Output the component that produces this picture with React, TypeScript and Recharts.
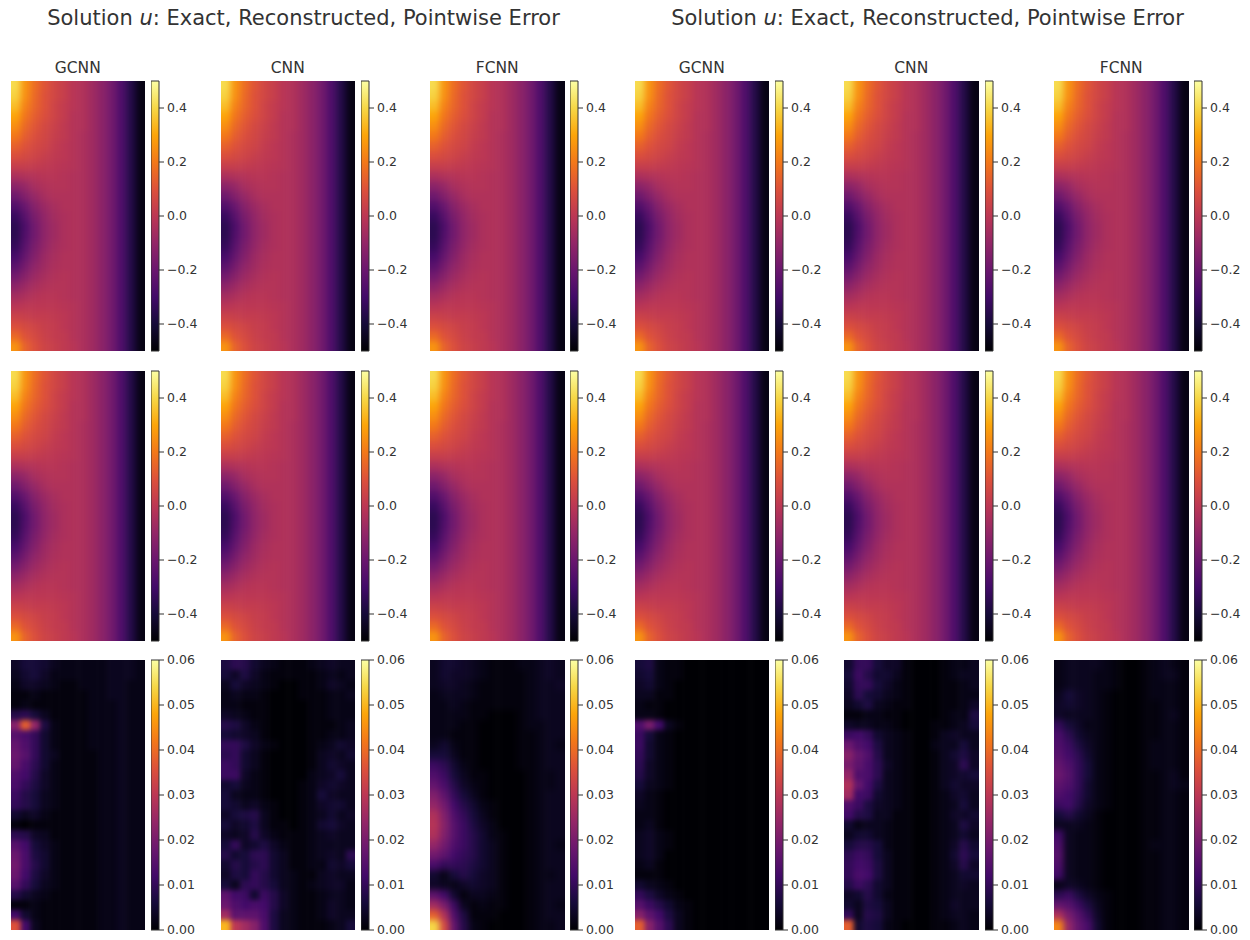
import React from "react";
import { Bar, BarChart, Scatter, ScatterChart, XAxis, YAxis } from "recharts";

const MODEL_NAMES = ["GCNN", "CNN", "FCNN", "GCNN", "CNN", "FCNN"];
const TITLE_PREFIX = "Solution ";
const TITLE_SUFFIX = ": Exact, Reconstructed, Pointwise Error";

const FIELD_TICKS = [-0.4, -0.2, 0, 0.2, 0.4];
const ERROR_TICKS = [0, 0.01, 0.02, 0.03, 0.04, 0.05, 0.06];

const INFERNO = ["#000004", "#160b39", "#420a68", "#6a176e", "#932667", "#bc3754", "#dd513a", "#f37819", "#fca50a", "#f6d746", "#fcffa4"];

// u field, same look in the exact and reconstructed rows
const FIELD = [
  [0.41, 0.26, 0.17, 0.11, 0.06, 0.03, -0.01, -0.03, -0.07, -0.12, -0.18, -0.27, -0.37, -0.47],
  [0.39, 0.25, 0.16, 0.1, 0.06, 0.03, -0.01, -0.03, -0.07, -0.12, -0.18, -0.27, -0.37, -0.47],
  [0.35, 0.22, 0.15, 0.1, 0.05, 0.02, -0.01, -0.03, -0.07, -0.12, -0.18, -0.27, -0.37, -0.47],
  [0.3, 0.19, 0.13, 0.09, 0.05, 0.02, -0.02, -0.03, -0.07, -0.12, -0.18, -0.27, -0.37, -0.47],
  [0.25, 0.16, 0.11, 0.07, 0.04, 0.01, -0.02, -0.03, -0.07, -0.12, -0.18, -0.27, -0.37, -0.47],
  [0.2, 0.13, 0.09, 0.06, 0.03, 0.01, -0.02, -0.04, -0.07, -0.12, -0.18, -0.27, -0.37, -0.47],
  [0.14, 0.1, 0.07, 0.05, 0.02, 0, -0.02, -0.04, -0.07, -0.12, -0.18, -0.27, -0.37, -0.47],
  [0.09, 0.07, 0.05, 0.03, 0.01, 0, -0.02, -0.04, -0.07, -0.12, -0.18, -0.27, -0.37, -0.47],
  [0.03, 0.03, 0.02, 0.01, 0, -0.01, -0.02, -0.04, -0.07, -0.12, -0.18, -0.27, -0.37, -0.47],
  [-0.04, -0.03, -0.02, -0.01, -0.01, -0.02, -0.03, -0.04, -0.07, -0.12, -0.18, -0.27, -0.37, -0.47],
  [-0.12, -0.09, -0.05, -0.03, -0.02, -0.02, -0.03, -0.04, -0.07, -0.12, -0.18, -0.27, -0.37, -0.47],
  [-0.19, -0.14, -0.09, -0.05, -0.03, -0.03, -0.03, -0.04, -0.07, -0.12, -0.18, -0.27, -0.37, -0.47],
  [-0.26, -0.2, -0.13, -0.08, -0.05, -0.03, -0.03, -0.04, -0.07, -0.12, -0.18, -0.27, -0.37, -0.47],
  [-0.32, -0.24, -0.16, -0.1, -0.06, -0.04, -0.03, -0.04, -0.07, -0.12, -0.18, -0.27, -0.37, -0.47],
  [-0.35, -0.27, -0.18, -0.11, -0.07, -0.04, -0.03, -0.04, -0.07, -0.12, -0.18, -0.27, -0.37, -0.47],
  [-0.35, -0.26, -0.18, -0.11, -0.07, -0.04, -0.03, -0.04, -0.07, -0.12, -0.18, -0.27, -0.37, -0.47],
  [-0.33, -0.24, -0.16, -0.1, -0.06, -0.04, -0.03, -0.04, -0.07, -0.12, -0.18, -0.27, -0.37, -0.47],
  [-0.29, -0.21, -0.14, -0.08, -0.05, -0.03, -0.03, -0.04, -0.07, -0.12, -0.18, -0.27, -0.37, -0.47],
  [-0.24, -0.17, -0.11, -0.07, -0.04, -0.03, -0.03, -0.04, -0.07, -0.12, -0.18, -0.27, -0.37, -0.47],
  [-0.18, -0.13, -0.08, -0.05, -0.03, -0.02, -0.03, -0.04, -0.07, -0.12, -0.18, -0.27, -0.37, -0.47],
  [-0.12, -0.08, -0.05, -0.03, -0.02, -0.02, -0.03, -0.04, -0.07, -0.12, -0.18, -0.27, -0.37, -0.47],
  [-0.06, -0.04, -0.02, -0.01, -0.01, -0.02, -0.03, -0.04, -0.07, -0.12, -0.18, -0.27, -0.37, -0.47],
  [-0.01, 0, 0, 0, 0, -0.01, -0.02, -0.04, -0.07, -0.12, -0.18, -0.27, -0.37, -0.47],
  [0.04, 0.03, 0.02, 0.02, 0.01, 0, -0.02, -0.04, -0.07, -0.12, -0.18, -0.27, -0.37, -0.47],
  [0.09, 0.07, 0.05, 0.03, 0.02, 0, -0.02, -0.04, -0.07, -0.12, -0.18, -0.27, -0.37, -0.47],
  [0.16, 0.1, 0.07, 0.04, 0.02, 0.01, -0.02, -0.04, -0.07, -0.12, -0.18, -0.27, -0.37, -0.47],
  [0.26, 0.14, 0.09, 0.05, 0.03, 0.01, -0.01, -0.04, -0.07, -0.12, -0.18, -0.27, -0.37, -0.47],
];

// pointwise errors, in thousandths
const ERROR_GCNN_A = [
  [4, 6, 6, 5, 3, 2, 2, 2, 2, 2, 3, 3, 3, 2],
  [3, 5, 6, 4, 2, 2, 2, 2, 2, 2, 3, 3, 3, 2],
  [2, 4, 4, 3, 2, 1, 1, 2, 2, 2, 3, 3, 2, 2],
  [1, 1, 2, 1, 1, 1, 1, 1, 2, 2, 3, 3, 2, 2],
  [1, 2, 1, 1, 1, 1, 1, 1, 2, 2, 2, 3, 2, 2],
  [8, 9, 6, 3, 1, 1, 1, 1, 2, 2, 2, 3, 2, 2],
  [22, 38, 24, 7, 2, 1, 1, 1, 2, 2, 2, 3, 2, 2],
  [15, 13, 10, 5, 2, 1, 1, 1, 2, 2, 2, 3, 2, 2],
  [17, 14, 10, 5, 2, 1, 1, 1, 2, 2, 2, 3, 2, 2],
  [18, 15, 10, 5, 3, 1, 1, 1, 1, 2, 2, 3, 2, 2],
  [17, 13, 9, 5, 2, 1, 1, 1, 1, 2, 2, 3, 2, 2],
  [14, 12, 8, 4, 2, 1, 1, 1, 1, 2, 2, 3, 2, 2],
  [13, 10, 7, 4, 2, 1, 1, 1, 1, 2, 2, 3, 2, 2],
  [11, 8, 6, 3, 2, 1, 1, 1, 1, 2, 2, 3, 2, 2],
  [10, 8, 6, 3, 2, 1, 1, 1, 1, 2, 2, 3, 2, 2],
  [5, 3, 4, 2, 1, 1, 1, 1, 1, 2, 2, 3, 2, 2],
  [1, 0, 1, 1, 1, 1, 1, 1, 1, 2, 2, 3, 2, 2],
  [9, 8, 4, 3, 1, 1, 1, 1, 1, 2, 2, 3, 2, 2],
  [15, 12, 6, 4, 2, 1, 1, 1, 1, 2, 2, 3, 2, 2],
  [18, 13, 7, 5, 2, 1, 1, 1, 1, 2, 2, 3, 2, 2],
  [19, 13, 8, 5, 2, 1, 1, 1, 1, 2, 2, 3, 2, 2],
  [18, 12, 7, 4, 2, 1, 1, 1, 1, 2, 2, 3, 2, 2],
  [15, 10, 6, 3, 2, 1, 1, 1, 1, 2, 2, 3, 2, 2],
  [8, 5, 3, 2, 1, 1, 1, 1, 1, 2, 2, 3, 2, 2],
  [1, 1, 2, 1, 1, 1, 1, 1, 1, 2, 2, 3, 2, 2],
  [12, 5, 2, 1, 1, 1, 1, 1, 1, 2, 2, 3, 2, 2],
  [36, 12, 3, 1, 1, 1, 1, 1, 1, 2, 2, 3, 2, 2],
];

const ERROR_CNN_A = [
  [7, 9, 8, 5, 3, 2, 1, 1, 1, 2, 3, 4, 3, 3],
  [6, 4, 7, 4, 2, 1, 1, 1, 1, 1, 2, 3, 2, 3],
  [3, 6, 4, 3, 2, 1, 0, 0, 1, 1, 2, 4, 3, 2],
  [2, 3, 2, 2, 1, 0, 0, 0, 1, 1, 1, 2, 2, 3],
  [2, 2, 1, 1, 1, 0, 0, 0, 0, 1, 1, 2, 2, 2],
  [4, 3, 2, 1, 1, 0, 0, 0, 0, 1, 1, 2, 2, 2],
  [8, 7, 4, 2, 1, 0, 0, 0, 0, 1, 1, 1, 2, 3],
  [6, 5, 4, 3, 1, 0, 0, 0, 0, 1, 1, 2, 2, 3],
  [10, 10, 7, 4, 2, 1, 0, 0, 0, 1, 2, 3, 5, 4],
  [9, 10, 5, 3, 1, 0, 0, 0, 0, 1, 3, 4, 3, 5],
  [11, 10, 5, 3, 1, 0, 0, 0, 0, 1, 3, 5, 4, 3],
  [11, 11, 4, 2, 1, 0, 0, 0, 0, 2, 3, 4, 6, 3],
  [5, 6, 3, 2, 1, 0, 0, 0, 1, 2, 4, 5, 4, 3],
  [6, 3, 2, 2, 1, 0, 0, 0, 1, 2, 6, 4, 3, 3],
  [6, 5, 3, 4, 2, 1, 0, 0, 1, 2, 4, 5, 5, 3],
  [4, 6, 7, 8, 3, 1, 0, 0, 1, 2, 3, 5, 3, 4],
  [6, 4, 5, 7, 3, 1, 1, 0, 1, 2, 5, 6, 4, 3],
  [4, 3, 4, 8, 4, 2, 1, 1, 1, 2, 3, 4, 3, 3],
  [6, 10, 4, 5, 7, 4, 2, 1, 1, 2, 3, 3, 3, 3],
  [8, 5, 6, 9, 9, 5, 3, 1, 1, 2, 3, 4, 3, 9],
  [5, 8, 6, 8, 9, 5, 3, 1, 1, 2, 2, 5, 4, 6],
  [4, 7, 6, 10, 8, 5, 3, 2, 1, 1, 3, 4, 3, 3],
  [6, 3, 9, 10, 8, 6, 3, 2, 1, 2, 3, 4, 4, 2],
  [16, 12, 11, 5, 11, 8, 4, 2, 1, 1, 2, 3, 3, 2],
  [18, 14, 12, 13, 12, 8, 4, 2, 1, 1, 2, 4, 3, 2],
  [26, 16, 16, 16, 13, 7, 3, 2, 1, 1, 2, 4, 3, 3],
  [50, 30, 26, 22, 14, 7, 3, 2, 1, 1, 1, 2, 3, 6],
];

const ERROR_FCNN_A = [
  [3, 5, 5, 4, 3, 2, 1, 1, 1, 2, 2, 3, 4, 3],
  [3, 5, 4, 4, 3, 2, 1, 1, 1, 1, 2, 3, 4, 3],
  [3, 4, 4, 3, 2, 1, 1, 1, 1, 1, 2, 3, 3, 4],
  [2, 3, 3, 3, 2, 1, 1, 1, 1, 1, 2, 3, 3, 3],
  [2, 2, 3, 2, 1, 1, 1, 1, 1, 1, 2, 3, 3, 3],
  [2, 2, 2, 2, 1, 1, 0, 0, 0, 1, 2, 3, 3, 3],
  [2, 2, 2, 1, 1, 0, 0, 0, 0, 1, 2, 2, 3, 3],
  [2, 2, 1, 1, 1, 0, 0, 0, 0, 1, 1, 2, 3, 3],
  [3, 5, 2, 1, 1, 0, 0, 0, 0, 1, 1, 2, 3, 2],
  [6, 6, 3, 1, 1, 0, 0, 0, 0, 1, 1, 2, 3, 3],
  [11, 9, 5, 2, 1, 0, 0, 0, 0, 1, 1, 2, 3, 3],
  [14, 11, 6, 3, 1, 1, 0, 0, 0, 0, 1, 2, 2, 3],
  [17, 13, 8, 4, 2, 1, 0, 0, 0, 0, 1, 2, 2, 3],
  [21, 16, 10, 6, 3, 1, 0, 0, 0, 0, 1, 2, 3, 3],
  [24, 19, 12, 8, 5, 2, 1, 0, 0, 0, 1, 2, 3, 3],
  [28, 21, 14, 10, 6, 3, 1, 0, 0, 0, 1, 2, 3, 3],
  [29, 22, 15, 11, 7, 4, 2, 0, 0, 0, 1, 2, 3, 3],
  [28, 21, 15, 11, 8, 5, 2, 1, 0, 0, 1, 2, 3, 3],
  [24, 19, 14, 11, 8, 5, 3, 1, 0, 0, 1, 2, 3, 2],
  [19, 16, 12, 10, 8, 5, 3, 1, 0, 0, 1, 2, 3, 3],
  [13, 10, 10, 9, 7, 5, 3, 1, 0, 0, 1, 2, 3, 3],
  [5, 2, 6, 8, 6, 4, 3, 1, 0, 0, 1, 2, 2, 3],
  [4, 3, 2, 4, 5, 4, 3, 1, 0, 0, 1, 2, 3, 3],
  [16, 12, 5, 1, 3, 3, 2, 1, 0, 0, 1, 2, 3, 3],
  [26, 20, 11, 3, 1, 2, 1, 1, 0, 0, 1, 2, 3, 2],
  [38, 28, 14, 7, 1, 1, 1, 0, 0, 0, 1, 2, 3, 3],
  [54, 34, 17, 8, 2, 1, 0, 0, 0, 0, 1, 2, 2, 3],
];

const ERROR_GCNN_B = [
  [6, 7, 2, 1, 1, 0, 0, 0, 0, 0, 0, 0, 0, 0],
  [5, 6, 2, 1, 1, 0, 0, 0, 0, 0, 0, 0, 0, 0],
  [4, 5, 2, 1, 0, 0, 0, 0, 0, 0, 0, 0, 0, 0],
  [3, 3, 1, 1, 0, 0, 0, 0, 0, 0, 0, 0, 0, 0],
  [2, 1, 1, 0, 0, 0, 0, 0, 0, 0, 0, 0, 0, 0],
  [2, 2, 1, 0, 0, 0, 0, 0, 0, 0, 0, 0, 0, 0],
  [14, 20, 12, 3, 1, 0, 0, 0, 0, 0, 0, 0, 0, 0],
  [11, 6, 2, 1, 0, 0, 0, 0, 0, 0, 0, 0, 0, 0],
  [11, 5, 2, 1, 0, 0, 0, 0, 0, 0, 0, 0, 0, 0],
  [10, 5, 2, 1, 0, 0, 0, 0, 0, 0, 0, 0, 0, 0],
  [9, 4, 2, 1, 0, 0, 0, 0, 0, 0, 0, 0, 0, 0],
  [8, 4, 2, 1, 0, 0, 0, 0, 0, 0, 0, 0, 0, 0],
  [6, 3, 2, 1, 0, 0, 0, 0, 0, 0, 0, 0, 0, 0],
  [4, 2, 1, 0, 0, 0, 0, 0, 0, 0, 0, 0, 0, 0],
  [3, 2, 1, 0, 0, 0, 0, 0, 0, 0, 0, 0, 0, 0],
  [2, 2, 1, 0, 0, 0, 0, 0, 0, 0, 0, 0, 0, 0],
  [2, 3, 1, 0, 0, 0, 0, 0, 0, 0, 0, 0, 0, 0],
  [3, 4, 2, 1, 0, 0, 0, 0, 0, 0, 0, 0, 0, 0],
  [3, 4, 2, 1, 0, 0, 0, 0, 0, 0, 0, 0, 0, 0],
  [3, 4, 2, 0, 0, 0, 0, 0, 0, 0, 0, 0, 0, 0],
  [2, 3, 1, 0, 0, 0, 0, 0, 0, 0, 0, 0, 0, 0],
  [1, 1, 1, 0, 0, 0, 0, 0, 0, 0, 0, 0, 0, 0],
  [5, 3, 2, 1, 0, 0, 0, 0, 0, 0, 0, 0, 0, 0],
  [10, 7, 4, 2, 1, 0, 0, 0, 0, 0, 0, 0, 0, 0],
  [15, 11, 8, 5, 2, 1, 0, 0, 0, 0, 0, 0, 0, 0],
  [22, 16, 12, 7, 3, 1, 0, 0, 0, 0, 0, 0, 0, 0],
  [38, 22, 15, 9, 3, 1, 0, 0, 0, 0, 0, 0, 0, 0],
];

const ERROR_CNN_B = [
  [5, 10, 10, 6, 4, 4, 1, 0, 0, 0, 1, 2, 2, 3],
  [6, 11, 8, 5, 5, 3, 1, 0, 0, 0, 1, 2, 3, 3],
  [5, 10, 10, 6, 4, 2, 1, 0, 0, 0, 1, 1, 2, 3],
  [4, 9, 6, 5, 3, 2, 1, 0, 0, 0, 1, 1, 2, 2],
  [3, 5, 7, 3, 2, 1, 1, 0, 0, 0, 1, 1, 2, 4],
  [1, 1, 2, 2, 1, 1, 0, 0, 0, 0, 1, 2, 2, 7],
  [4, 3, 3, 2, 2, 1, 0, 0, 0, 1, 1, 2, 3, 6],
  [11, 12, 10, 5, 3, 2, 1, 0, 0, 1, 3, 4, 3, 3],
  [18, 14, 12, 7, 3, 2, 1, 0, 0, 2, 3, 3, 6, 3],
  [22, 17, 14, 8, 3, 2, 1, 0, 0, 1, 3, 5, 7, 4],
  [20, 16, 13, 9, 4, 2, 1, 0, 0, 1, 3, 4, 9, 4],
  [24, 14, 13, 9, 3, 2, 1, 0, 0, 1, 3, 4, 5, 6],
  [28, 17, 12, 7, 3, 2, 1, 0, 0, 1, 3, 5, 4, 4],
  [26, 12, 11, 5, 3, 2, 1, 0, 0, 1, 2, 4, 5, 3],
  [14, 11, 7, 4, 3, 2, 1, 0, 0, 1, 2, 3, 6, 3],
  [12, 8, 7, 3, 3, 1, 1, 0, 0, 1, 2, 4, 4, 5],
  [5, 2, 3, 3, 2, 1, 1, 0, 0, 1, 2, 3, 7, 4],
  [3, 5, 5, 3, 2, 1, 1, 0, 0, 1, 2, 3, 5, 3],
  [6, 8, 8, 6, 2, 1, 1, 0, 0, 1, 2, 4, 8, 5],
  [9, 11, 10, 6, 3, 1, 1, 0, 0, 1, 2, 5, 9, 6],
  [10, 12, 11, 7, 3, 1, 1, 0, 0, 1, 2, 4, 8, 4],
  [10, 13, 12, 7, 3, 1, 1, 0, 0, 1, 2, 3, 5, 5],
  [8, 11, 9, 5, 3, 1, 1, 0, 0, 1, 2, 3, 4, 3],
  [4, 5, 8, 5, 2, 1, 1, 0, 0, 1, 2, 3, 3, 3],
  [5, 3, 7, 6, 3, 1, 1, 0, 0, 1, 2, 4, 3, 3],
  [10, 3, 8, 7, 3, 1, 1, 0, 0, 1, 2, 3, 3, 2],
  [38, 5, 7, 6, 2, 1, 0, 0, 0, 1, 1, 2, 3, 2],
];

const ERROR_FCNN_B = [
  [2, 3, 3, 3, 3, 2, 1, 0, 0, 1, 2, 3, 2, 1],
  [2, 3, 3, 3, 2, 2, 1, 0, 0, 1, 2, 3, 3, 1],
  [2, 3, 3, 3, 2, 2, 1, 0, 0, 1, 2, 2, 2, 1],
  [3, 6, 4, 3, 2, 1, 0, 0, 0, 1, 2, 2, 2, 1],
  [4, 5, 4, 3, 2, 1, 0, 0, 0, 1, 1, 2, 2, 1],
  [4, 3, 3, 3, 2, 1, 0, 0, 0, 1, 1, 2, 3, 1],
  [10, 6, 4, 2, 2, 1, 0, 0, 0, 1, 1, 2, 2, 1],
  [13, 9, 5, 3, 2, 1, 0, 0, 0, 1, 1, 2, 2, 1],
  [14, 11, 7, 4, 2, 1, 0, 0, 0, 1, 2, 2, 2, 1],
  [15, 12, 9, 5, 2, 1, 0, 0, 0, 1, 2, 2, 2, 1],
  [17, 14, 10, 6, 2, 1, 0, 0, 0, 1, 2, 2, 2, 1],
  [18, 15, 10, 6, 2, 1, 0, 0, 0, 1, 1, 2, 3, 1],
  [16, 14, 10, 5, 2, 1, 0, 0, 0, 1, 1, 2, 3, 2],
  [14, 12, 9, 5, 2, 1, 0, 0, 0, 1, 1, 2, 2, 1],
  [11, 12, 8, 4, 2, 1, 0, 0, 0, 1, 1, 2, 2, 1],
  [6, 8, 5, 3, 1, 0, 0, 0, 0, 1, 1, 2, 2, 1],
  [3, 3, 3, 2, 1, 0, 0, 0, 0, 1, 1, 2, 2, 1],
  [12, 3, 2, 2, 1, 0, 0, 0, 0, 1, 1, 2, 2, 1],
  [14, 3, 2, 2, 1, 0, 0, 0, 0, 1, 2, 2, 2, 1],
  [15, 3, 2, 2, 1, 0, 0, 0, 0, 1, 1, 2, 2, 1],
  [14, 3, 2, 2, 1, 0, 0, 0, 0, 1, 1, 2, 2, 1],
  [12, 3, 2, 2, 1, 0, 0, 0, 0, 1, 1, 2, 2, 1],
  [2, 4, 3, 2, 1, 0, 0, 0, 0, 1, 1, 2, 2, 1],
  [9, 11, 7, 4, 2, 1, 0, 0, 0, 1, 1, 2, 2, 1],
  [17, 15, 11, 7, 3, 1, 0, 0, 0, 1, 1, 2, 2, 1],
  [28, 20, 15, 10, 4, 1, 0, 0, 0, 1, 1, 2, 2, 1],
  [44, 24, 17, 13, 5, 1, 0, 0, 0, 1, 1, 2, 2, 1],
];

const ERROR_GRIDS = [ERROR_GCNN_A, ERROR_CNN_A, ERROR_FCNN_A, ERROR_GCNN_B, ERROR_CNN_B, ERROR_FCNN_B];
const ERROR_BLUR = [2.5, 2.5, 3, 2.5, 2.5, 3];

const COLUMN_X = [10.5, 220.5, 430, 634.5, 844, 1054];
const BAR_X = [150.5, 360.5, 569.5, 774.5, 984.5, 1193.5];
const ROW_Y = [81, 371, 660];
const PANEL_W = 134.5;
const PANEL_H = 270;
const PAD = 8; // extra painted rim so the blur does not fade at the edges
const TEXT = "#333333";
const FONT = "'DejaVu Sans', sans-serif";

const infernoColor = (t: number) => {
  const p = Math.max(0, Math.min(1, t)) * (INFERNO.length - 1);
  const i = Math.min(Math.floor(p), INFERNO.length - 2);
  const f = p - i;
  const rgb = [1, 3, 5].map((k) => {
    const a = parseInt(INFERNO[i].slice(k, k + 2), 16);
    const b = parseInt(INFERNO[i + 1].slice(k, k + 2), 16);
    return Math.round(a + (b - a) * f);
  });
  return `rgb(${rgb.join(",")})`;
};

const Heatmap = ({ x, y, grid, toUnit, blur }: any) => {
  const rows = grid.length;
  const cols = grid[0].length;
  const cw = PANEL_W / cols;
  const ch = PANEL_H / rows;
  const cells = grid.flatMap((row: number[], r: number) =>
    row.map((v, c) => ({ col: c + 0.5, row: r + 0.5, v })),
  );
  const Cell = (p: any) => {
    const { col, row, v } = p.payload;
    const left = col < 1 ? PAD : 0;
    const right = col > cols - 1 ? PAD : 0;
    const top = row < 1 ? PAD : 0;
    const bottom = row > rows - 1 ? PAD : 0;
    return (
      <rect
        x={p.cx - cw / 2 - left}
        y={p.cy - ch / 2 - top}
        width={cw + left + right + 0.5}
        height={ch + top + bottom + 0.5}
        fill={infernoColor(toUnit(v))}
      />
    );
  };
  return (
    <div style={{ position: "absolute", left: x, top: y, width: PANEL_W, height: PANEL_H, overflow: "hidden" }}>
      <div style={{ position: "absolute", left: -PAD, top: -PAD, filter: `blur(${blur}px)` }}>
        <ScatterChart
          width={PANEL_W + PAD * 2}
          height={PANEL_H + PAD * 2}
          margin={{ top: PAD, right: PAD, bottom: PAD, left: PAD }}
        >
          <XAxis type="number" dataKey="col" domain={[0, cols]} hide />
          <YAxis type="number" dataKey="row" domain={[0, rows]} reversed hide />
          <Scatter data={cells} shape={Cell} isAnimationActive={false} />
        </ScatterChart>
      </div>
    </div>
  );
};

const Colorbar = ({ id, x, y, min, max, ticks, digits }: any) => (
  <div style={{ position: "absolute", left: x, top: y - 12 }}>
    <BarChart
      width={60}
      height={PANEL_H + 24}
      data={[{ name: "scale", range: [min, max] }]}
      margin={{ top: 12, right: 0, bottom: 12, left: 0 }}
      barCategoryGap={0}
    >
      <defs>
        <linearGradient id={id} x1="0" y1="1" x2="0" y2="0">
          {INFERNO.map((c, i) => (
            <stop key={c} offset={`${i * 10}%`} stopColor={c} />
          ))}
        </linearGradient>
      </defs>
      <XAxis dataKey="name" hide />
      <YAxis
        orientation="right"
        width={52}
        domain={[min, max]}
        ticks={ticks}
        interval={0}
        axisLine={false}
        tickSize={5}
        tickMargin={3}
        tickLine={{ stroke: TEXT }}
        tick={{ fontSize: 12.5, fill: TEXT, fontFamily: FONT }}
        tickFormatter={(v: number) => v.toFixed(digits).replace("-", "\u2212")}
      />
      <Bar dataKey="range" fill={`url(#${id})`} stroke={TEXT} strokeWidth={1} isAnimationActive={false} />
    </BarChart>
  </div>
);

const App = () => (
  <div style={{ position: "absolute", left: 0, top: 0, width: 1250, height: 940, background: "#fff", fontFamily: FONT, color: TEXT }}>
    {[303.5, 927.5].map((cx) => (
      <div key={cx} style={{ position: "absolute", left: cx - 300, width: 600, top: 6, textAlign: "center", fontSize: 21, lineHeight: "25px", whiteSpace: "nowrap" }}>
        {TITLE_PREFIX}
        <i>u</i>
        {TITLE_SUFFIX}
      </div>
    ))}
    {MODEL_NAMES.map((name, i) => (
      <div key={i} style={{ position: "absolute", left: COLUMN_X[i], width: PANEL_W, top: 59, textAlign: "center", fontSize: 15.5, lineHeight: "18px" }}>
        {name}
      </div>
    ))}
    {COLUMN_X.map((x, i) => (
      <React.Fragment key={i}>
        {ROW_Y.slice(0, 2).map((y, r) => (
          <React.Fragment key={r}>
            <Heatmap x={x} y={y} grid={FIELD} toUnit={(v: number) => v + 0.5} blur={3} />
            <Colorbar id={`field-${i}-${r}`} x={BAR_X[i]} y={y} min={-0.5} max={0.5} ticks={FIELD_TICKS} digits={1} />
          </React.Fragment>
        ))}
        <Heatmap x={x} y={ROW_Y[2]} grid={ERROR_GRIDS[i]} toUnit={(v: number) => v / 60} blur={ERROR_BLUR[i]} />
        <Colorbar id={`error-${i}`} x={BAR_X[i]} y={ROW_Y[2]} min={0} max={0.06} ticks={ERROR_TICKS} digits={2} />
      </React.Fragment>
    ))}
  </div>
);

export default App;
